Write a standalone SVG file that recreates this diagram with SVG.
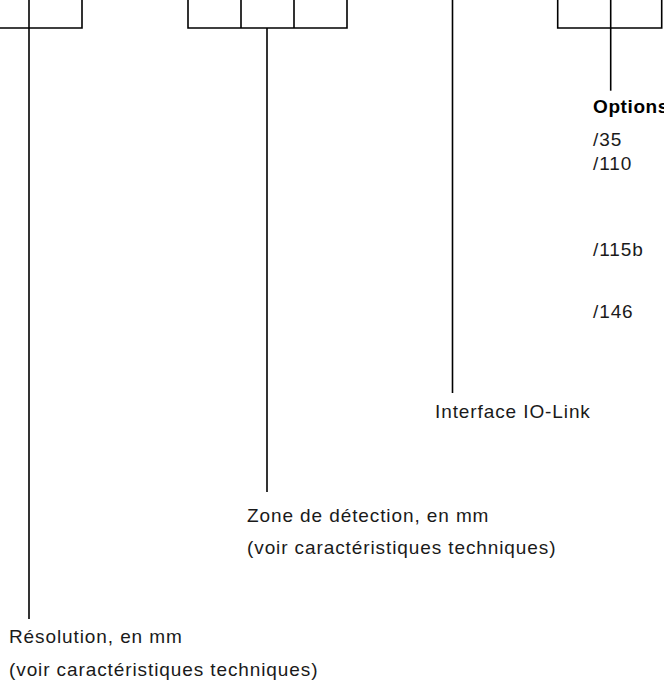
<svg xmlns="http://www.w3.org/2000/svg" width="664" height="686" viewBox="0 0 664 686">
<style>
.ln{fill:none;stroke:#000;stroke-width:1.6;stroke-linecap:butt}
.t{font-family:"Liberation Sans",Arial,Helvetica,sans-serif;font-size:19px;letter-spacing:0.9px;fill:#1a1a1a}
.b{font-weight:bold;fill:#000;letter-spacing:0.6px}
</style>
<rect width="664" height="686" fill="#fff"/>
<g id="box-resolution">
<path class="ln" d="M0 28H82V0"/>
</g>
<g id="box-zone">
<path class="ln" d="M188 0V28H347V0M241 0V28M294 0V28"/>
</g>
<g id="box-options">
<path class="ln" d="M557.7 0V28H661.7V0M610.7 0V28"/>
</g>
<g id="connectors">
<path class="ln" d="M29 0V619"/>
<path class="ln" d="M267 28V492"/>
<path class="ln" d="M452.5 0V393"/>
<path class="ln" d="M610.7 28V90.7"/>
</g>
<g id="label-options">
<text class="t b" x="593" y="113">Options</text>
<text class="t" x="593" y="146">/35</text>
<text class="t" x="593" y="170">/110</text>
<text class="t" x="593" y="256">/115b</text>
<text class="t" x="593" y="318">/146</text>
</g>
<g id="label-interface">
<text class="t" x="435" y="418">Interface IO-Link</text>
</g>
<g id="label-zone">
<text class="t" x="247" y="522">Zone de détection, en mm</text>
<text class="t" x="247" y="554">(voir caractéristiques techniques)</text>
</g>
<g id="label-resolution">
<text class="t" x="9" y="643">Résolution, en mm</text>
<text class="t" x="9" y="676">(voir caractéristiques techniques)</text>
</g>
</svg>
